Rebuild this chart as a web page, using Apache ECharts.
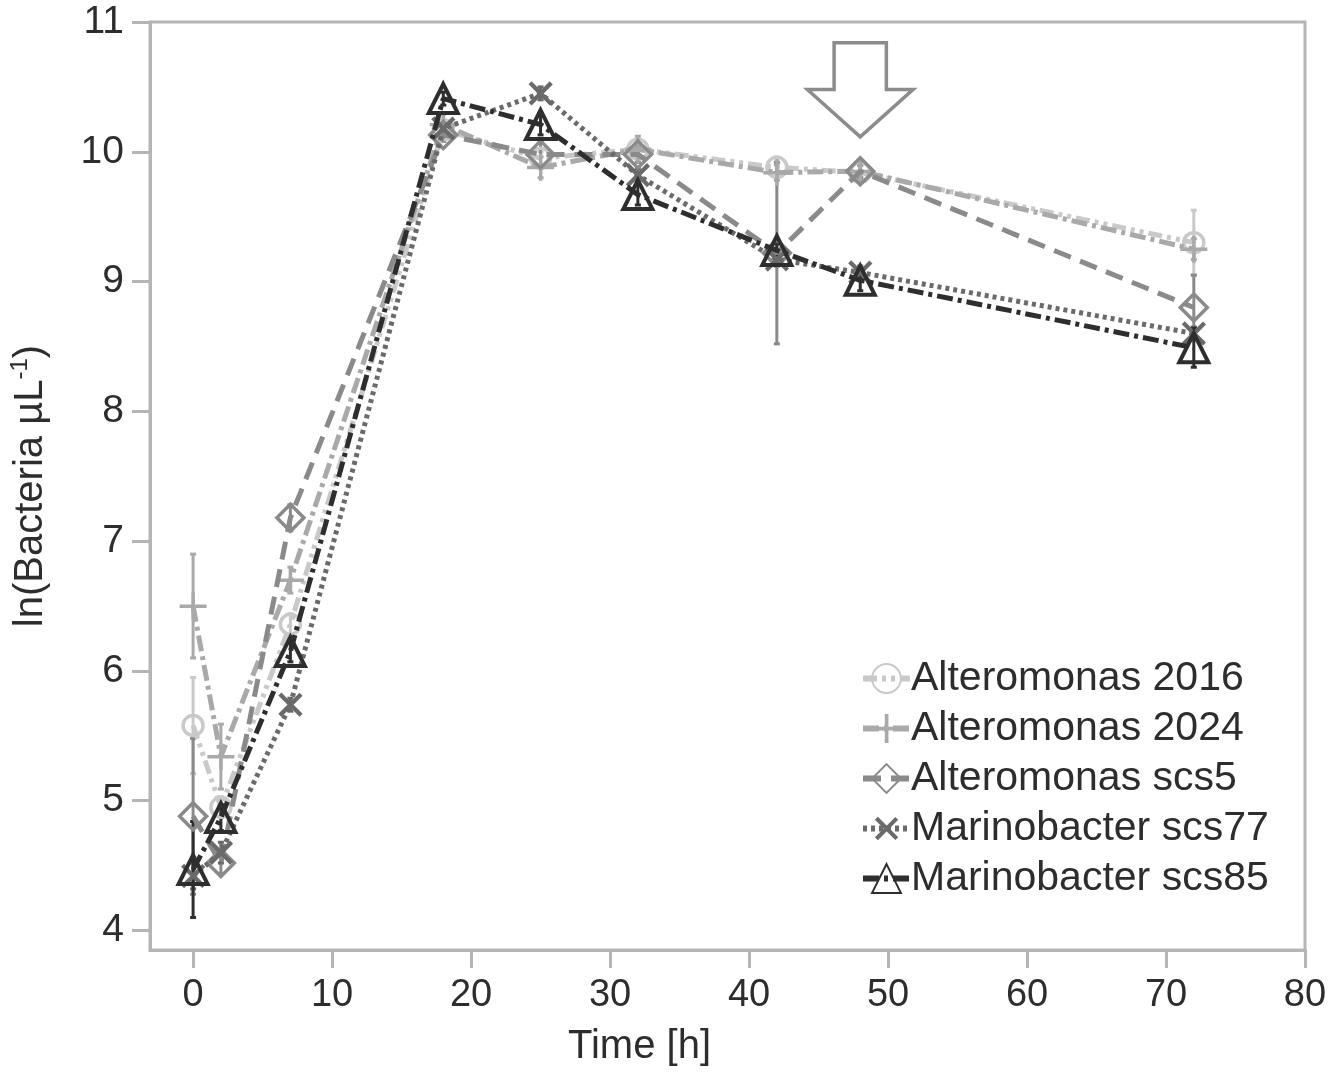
<!DOCTYPE html>
<html>
<head>
<meta charset="utf-8">
<script src="https://cdn.jsdelivr.net/npm/echarts@6/dist/echarts.min.js"></script>
<style>
html,body{margin:0;padding:0;background:#fff;overflow:hidden;}
#chart{width:1334px;height:1078px;}
</style>
</head>
<body>
<div id="chart"></div>
<script>
// ---------- data ----------
const time = [0, 2, 7, 18, 25, 32, 42, 48, 72];

const alt2016    = [5.58, 4.95, 6.36, 10.17, 9.95, 10.02, 9.88, 9.84, 9.30];
const alt2016Err = [0.37, 0.08, 0.08, 0.05, 0.05, 0.05, 0.08, 0.05, 0.25];

const alt2024    = [6.50, 5.34, 6.70, 10.21, 9.88, 10.02, 9.84, 9.85, 9.25];
const alt2024Err = [0.40, 0.25, 0.10, 0.08, 0.08, 0.10, 0.06, 0.05, 0.08];

const scs5    = [4.88, 4.52, 7.18, 10.13, 9.98, 9.98, 9.22, 9.85, 8.80];
const scs5Err = [0.60, 0.08, 0.10, 0.05, 0.10, 0.06, 0.70, 0.05, 0.25];

const scs77    = [4.42, 4.60, 5.74, 10.18, 10.45, 9.82, 9.17, 9.07, 8.60];
const scs77Err = [0.10, 0.08, 0.05, 0.05, 0.05, 0.05, 0.05, 0.05, 0.05];

const scs85    = [4.47, 4.87, 6.15, 10.41, 10.21, 9.67, 9.24, 9.01, 8.49];
const scs85Err = [0.37, 0.10, 0.08, 0.05, 0.08, 0.08, 0.05, 0.08, 0.15];

const xTicks = [0, 10, 20, 30, 40, 50, 60, 70, 80];
const yTicks = [4, 5, 6, 7, 8, 9, 10, 11];

const seriesNames = ['Alteromonas 2016', 'Alteromonas 2024', 'Alteromonas scs5', 'Marinobacter scs77', 'Marinobacter scs85'];

// annotation arrow (data coordinates)
const arrowX = 48, arrowTipY = 10.115, arrowBaseY = 10.48, arrowTopY = 10.84;
const arrowShaftHalf = 1.88, arrowHeadHalf = 3.8;

// ---------- styles ----------
const FONT = "'Liberation Sans', Arial, Helvetica, sans-serif";
const AXIS = '#b5b5b5';
const TEXT = '#2d2d2d';
const PLUS = 'path://M11,0h3.2v25h-3.2z M0,11h25v3.2h-25z';
const CROSS = 'path://M10.8,0h3.6v25h-3.6z M0,10.8h25v3.6h-25z';

const styles = [
  {color:'#c9c9c9', dash:[14,5,4,5,4,5], symbol:'circle', size:20, hollow:true, bw:3.5},
  {color:'#a9a9a9', dash:[16,5,4,5], symbol:PLUS, size:27, hollow:false, bw:0},
  {color:'#8a8a8a', dash:[18,10], symbol:'diamond', size:27, hollow:true, bw:3.5},
  {color:'#6a6a6a', dash:[4,4], symbol:CROSS, size:30, hollow:false, bw:0, rotate:45},
  {color:'#2e2e2e', dash:[16,5,4,5], symbol:'triangle', size:29, hollow:true, bw:4}
];
const values = [alt2016, alt2024, scs5, scs77, scs85];
const errs = [alt2016Err, alt2024Err, scs5Err, scs77Err, scs85Err];

const series = [];
// error bars
values.forEach((vals, i) => {
  const st = styles[i];
  series.push({
    name: seriesNames[i] + ' err',
    type: 'custom',
    z: 2,
    data: time.map((t, k) => [t, vals[k] - errs[i][k], vals[k] + errs[i][k]]),
    encode: {x: 0, y: [1, 2]},
    renderItem: (params, api) => {
      const x = api.value(0), lo = api.value(1), hi = api.value(2);
      const p1 = api.coord([x, hi]), p2 = api.coord([x, lo]);
      const cw = 3;
      const ls = {stroke: st.color, lineWidth: 3};
      return {type: 'group', children: [
        {type: 'line', shape: {x1: p1[0], y1: p1[1], x2: p2[0], y2: p2[1]}, style: ls},
        {type: 'line', shape: {x1: p1[0]-cw, y1: p1[1], x2: p1[0]+cw, y2: p1[1]}, style: ls},
        {type: 'line', shape: {x1: p2[0]-cw, y1: p2[1], x2: p2[0]+cw, y2: p2[1]}, style: ls}
      ]};
    },
    silent: true
  });
});
// lines
values.forEach((vals, i) => {
  const st = styles[i];
  series.push({
    name: seriesNames[i],
    type: 'line',
    z: 3 + i,
    data: time.map((t, k) => [t, vals[k]]),
    symbol: st.symbol,
    symbolSize: st.size,
    symbolRotate: st.rotate || 0,
    showAllSymbol: true,
    lineStyle: {color: st.color, width: 5, type: st.dash},
    itemStyle: st.hollow
      ? {color: 'rgba(255,255,255,0)', borderColor: st.color, borderWidth: st.bw}
      : {color: st.color, borderWidth: 0},
    emphasis: {disabled: true},
    animation: false
  });
});

const chart = echarts.init(document.getElementById('chart'), null, {renderer: 'canvas'});
chart.setOption({
  animation: false,
  backgroundColor: '#fff',
  textStyle: {fontFamily: FONT},
  grid: {left: 148, right: 29, top: 22, bottom: 128, show: true, borderColor: AXIS, borderWidth: 3, containLabel: false},
  xAxis: {
    type: 'value', min: -3.1, max: 80,
    name: 'Time [h]', nameLocation: 'middle', nameGap: 77,
    nameTextStyle: {fontSize: 40, color: TEXT, fontFamily: FONT, padding: [0, 176, 0, 0]},
    axisLine: {show: true, onZero: false, lineStyle: {color: AXIS, width: 3}},
    axisTick: {show: true, inside: false, length: 18, lineStyle: {color: AXIS, width: 3}, customValues: xTicks},
    axisLabel: {fontSize: 38, color: TEXT, margin: 27, fontFamily: FONT, customValues: xTicks},
    splitLine: {show: false}
  },
  yAxis: {
    type: 'value', min: 3.85, max: 11,
    name: '{a|ln(Bacteria µL}{s|-1}{a|)}', nameLocation: 'middle', nameGap: 96,
    nameTextStyle: {
      color: TEXT, fontFamily: FONT,
      rich: {
        a: {fontSize: 40, color: TEXT, fontFamily: FONT, lineHeight: 46},
        s: {fontSize: 24, color: TEXT, fontFamily: FONT, verticalAlign: 'top', lineHeight: 46}
      }
    },
    axisLine: {show: true, onZero: false, lineStyle: {color: AXIS, width: 3}},
    axisTick: {show: true, inside: false, length: 18, lineStyle: {color: AXIS, width: 3}, customValues: yTicks},
    axisLabel: {fontSize: 39, color: TEXT, margin: 26, fontFamily: FONT, customValues: yTicks},
    splitLine: {show: false}
  },
  legend: {
    data: seriesNames,
    orient: 'vertical',
    left: 855, top: 653,
    itemWidth: 47, itemHeight: 36, itemGap: 9,
    lineStyle: {width: 6},
    textStyle: {fontSize: 41, color: TEXT, fontFamily: FONT, padding: [0, 0, 0, -4]},
    selectedMode: false
  },
  series: series
});

// arrow annotation positioned through the grid's scales
function drawArrow() {
  const c = (x, y) => chart.convertToPixel({gridIndex: 0}, [x, y]);
  const pts = [
    c(arrowX - arrowShaftHalf, arrowTopY),
    c(arrowX + arrowShaftHalf, arrowTopY),
    c(arrowX + arrowShaftHalf, arrowBaseY),
    c(arrowX + arrowHeadHalf, arrowBaseY),
    c(arrowX, arrowTipY),
    c(arrowX - arrowHeadHalf, arrowBaseY),
    c(arrowX - arrowShaftHalf, arrowBaseY)
  ];
  chart.setOption({graphic: [{
    type: 'polygon', z: 10,
    shape: {points: pts},
    style: {fill: '#fff', stroke: '#8c8c8c', lineWidth: 3.5}
  }]});
}
drawArrow();
</script>
</body>
</html>
